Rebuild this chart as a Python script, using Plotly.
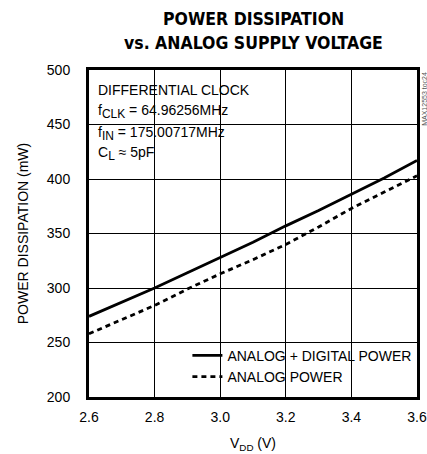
import plotly.graph_objects as go

vdd = [2.6, 2.7, 2.8, 2.9, 3.0, 3.1, 3.2, 3.3, 3.4, 3.5, 3.6]
total_power = [274, 287, 300, 314, 328, 342, 357, 371, 386, 401, 417]
analog_power = [258, 271, 284, 299, 313, 326, 340, 356, 373, 388, 403]
x_ticks = [2.6, 2.8, 3.0, 3.2, 3.4, 3.6]
x_tick_labels = ["2.6", "2.8", "3.0", "3.2", "3.4", "3.6"]
y_ticks = [200, 250, 300, 350, 400, 450, 500]

FONT = "Liberation Sans, Arial, sans-serif"
TFONT = "DejaVu Sans Condensed, DejaVu Sans, sans-serif"

fig = go.Figure()
fig.add_trace(go.Scatter(x=vdd, y=total_power, mode="lines",
                         name="ANALOG + DIGITAL POWER",
                         line=dict(color="black", width=2.8)))
fig.add_trace(go.Scatter(x=vdd, y=analog_power, mode="lines",
                         name="ANALOG POWER",
                         line=dict(color="black", width=2.8, dash="5px,4px")))

# white masks hiding grid behind annotation and legend
fig.add_shape(type="rect", xref="paper", yref="paper", x0=0, x1=0.482, y0=0.706, y1=1,
              fillcolor="white", line_width=0, layer="between")
fig.add_shape(type="rect", xref="paper", yref="paper", x0=0.256, x1=1, y0=0, y1=0.168,
              fillcolor="white", line_width=0, layer="between")

fig.update_layout(
    width=427, height=454,
    margin=dict(l=89, r=10, t=70, b=57, autoexpand=False),
    paper_bgcolor="white", plot_bgcolor="white",
    font=dict(family=FONT, size=14, color="black"),
    showlegend=True,
    legend=dict(x=0.3, y=0.175, xanchor="left", yanchor="top",
                bgcolor="rgba(0,0,0,0)", borderwidth=0,
                font=dict(family=FONT, size=14), tracegroupgap=0),
    xaxis=dict(range=[2.6, 3.6], tickvals=x_ticks, ticktext=x_tick_labels,
               showgrid=True, gridcolor="black", gridwidth=1,
               showline=True, linecolor="black", linewidth=3, mirror="ticks",
               ticks="inside", ticklen=6, tickcolor="black", tickwidth=1,
               zeroline=False, automargin=False, ticklabelstandoff=5,
               ticklabeloverflow="allow",
               title=dict(text="V<sub>DD</sub> (V)", font=dict(family=FONT, size=14))),
    yaxis=dict(range=[200, 500], tickvals=y_ticks,
               showgrid=True, gridcolor="black", gridwidth=1,
               showline=True, linecolor="black", linewidth=3, mirror="ticks",
               ticks="inside", ticklen=6, tickcolor="black", tickwidth=1,
               zeroline=False, automargin=False, ticklabelstandoff=13,
               title=dict(text="POWER DISSIPATION (mW)", font=dict(family=FONT, size=14))),
)

fig.add_annotation(text="<b>POWER DISSIPATION</b>", xref="paper", yref="paper",
                   x=0.5, y=1 + 51 / 327, xanchor="center", yanchor="middle",
                   showarrow=False, font=dict(family=TFONT, size=17.5, color="black"))
fig.add_annotation(text="<b>vs. ANALOG SUPPLY VOLTAGE</b>", xref="paper", yref="paper",
                   x=0.5, y=1 + 27 / 327, xanchor="center", yanchor="middle",
                   showarrow=False, font=dict(family=TFONT, size=17.5, color="black"))

SUB = '<sub><span style="font-size:12px">{}</span></sub>'
ann_lines = ["DIFFERENTIAL CLOCK",
             "f" + SUB.format("CLK") + " = 64.96256MHz",
             "f" + SUB.format("IN") + " = 175.00717MHz",
             "C" + SUB.format("L") + " ≈ 5pF"]
ann_y = [0.939, 0.872, 0.807, 0.746]
for t, yy in zip(ann_lines, ann_y):
    fig.add_annotation(text=t, xref="paper", yref="paper", x=0.02, y=yy,
                       xanchor="left", yanchor="middle", showarrow=False,
                       font=dict(family=FONT, size=14, color="black"))

fig.add_annotation(text="MAX12553 toc24", xref="paper", yref="paper",
                   x=1.004, y=1.0, xanchor="left", yanchor="top", textangle=-90,
                   showarrow=False, font=dict(family=FONT, size=7, color="#555"))

fig.write_html("out.html",
               config={"displayModeBar": False},
               post_script="document.body.style.margin='0';"
                           "document.documentElement.style.overflow='hidden';")
